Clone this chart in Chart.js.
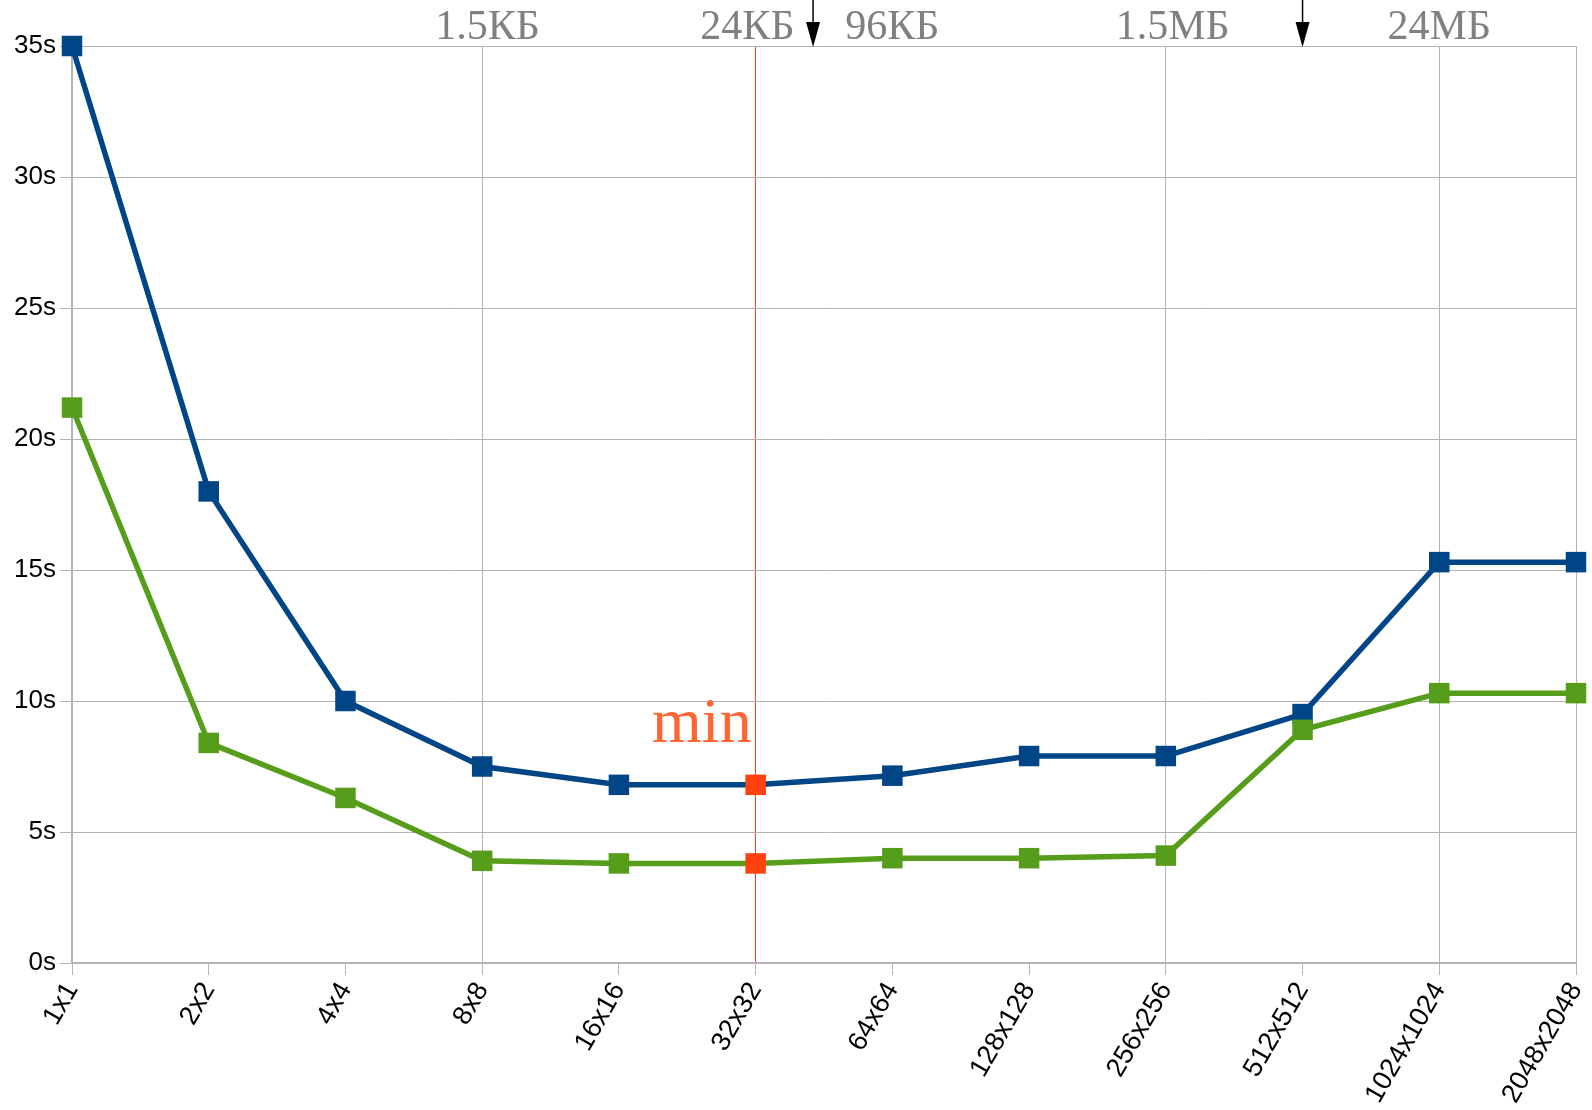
<!DOCTYPE html>
<html>
<head>
<meta charset="utf-8">
<script src="https://cdn.jsdelivr.net/npm/chart.js@4"></script>
<style>
  html, body { margin: 0; padding: 0; background: #ffffff; }
  #contenedor { width: 1592px; height: 1110px; }
</style>
</head>
<body>
<div id="contenedor"><canvas id="graficoLineas"></canvas></div>
<script>
// Tamaños de bloque (eje X)
const categorias = ['1x1', '2x2', '4x4', '8x8', '16x16', '32x32', '64x64', '128x128', '256x256', '512x512', '1024x1024', '2048x2048'];

// Tiempos en segundos
const serieAzul = [35, 18, 10, 7.5, 6.8, 6.8, 7.15, 7.9, 7.9, 9.5, 15.3, 15.3];
const serieVerde = [21.2, 8.4, 6.3, 3.9, 3.8, 3.8, 4.0, 4.0, 4.1, 8.9, 10.3, 10.3];

// Etiquetas de tamaño de memoria arriba del gráfico (posición en categorías)
const etiquetasMemoria = ['1.5КБ', '24КБ', '96КБ', '1.5МБ', '24МБ'];
const posicionesMemoria = [3.04, 4.94, 6, 8.05, 10];

// Flechas (posición en categorías, puede ser fraccionaria)
const posicionesFlechas = [5.42, 9];

// Líneas verticales de la cuadrícula visibles
const indicesCuadricula = [0, 3, 8, 10, 11];

// Mínimo
const indiceMinimo = 5;
const textoMinimo = 'min';
const valorTextoMinimo = 8.45;

const ticksY = [0, 5, 10, 15, 20, 25, 30, 35];

const AZUL = '#004586';
const VERDE = '#579d1c';
const ROJO = '#ff420e';
const GRIS = '#b3b3b3';

function coloresPuntos(color) {
    return categorias.map((c, i) => i === indiceMinimo ? ROJO : color);
}

// Pixel X para una posición de categoría fraccionaria
function pixelX(escala, pos) {
    const a = Math.floor(pos);
    const b = Math.min(a + 1, categorias.length - 1);
    const pa = escala.getPixelForValue(a);
    const pb = escala.getPixelForValue(b);
    return pa + (pb - pa) * (pos - a);
}

const pluginAnotaciones = {
    id: 'anotaciones',
    afterDraw(chart) {
        const ctx = chart.ctx;
        const x = chart.scales.x;
        const y = chart.scales.y;
        const area = chart.chartArea;
        ctx.save();

        // Textos de memoria
        ctx.font = '42px "Liberation Serif"';
        ctx.fillStyle = '#808080';
        ctx.textAlign = 'center';
        ctx.textBaseline = 'alphabetic';
        etiquetasMemoria.forEach((t, i) => {
            ctx.fillText(t, pixelX(x, posicionesMemoria[i]), area.top - 7);
        });

        // Flechas
        ctx.strokeStyle = '#000000';
        ctx.fillStyle = '#000000';
        ctx.lineWidth = 1.5;
        posicionesFlechas.forEach(p => {
            const px = pixelX(x, p);
            ctx.beginPath();
            ctx.moveTo(px, 0);
            ctx.lineTo(px, area.top - 10);
            ctx.stroke();
            ctx.beginPath();
            ctx.moveTo(px - 7, area.top - 24);
            ctx.lineTo(px + 7, area.top - 24);
            ctx.lineTo(px, area.top + 1);
            ctx.closePath();
            ctx.fill();
        });

        // Texto "min"
        ctx.font = '64px "Liberation Serif"';
        ctx.fillStyle = '#ff6633';
        ctx.textAlign = 'right';
        ctx.fillText(textoMinimo, x.getPixelForValue(indiceMinimo) - 4, y.getPixelForValue(valorTextoMinimo));
        ctx.restore();
    }
};

document.addEventListener('DOMContentLoaded', () => {
    const ctx = document.getElementById('graficoLineas').getContext('2d');
    new Chart(ctx, {
        type: 'line',
        data: {
            labels: categorias,
            datasets: [
                {
                    label: 'azul',
                    data: serieAzul,
                    borderColor: AZUL,
                    backgroundColor: AZUL,
                    pointBackgroundColor: coloresPuntos(AZUL),
                    pointBorderWidth: 0,
                    pointStyle: 'rect',
                    pointRadius: 14.5,
                    borderWidth: 5.5,
                    tension: 0,
                    clip: false,
                    order: 1
                },
                {
                    label: 'verde',
                    data: serieVerde,
                    borderColor: VERDE,
                    backgroundColor: VERDE,
                    pointBackgroundColor: coloresPuntos(VERDE),
                    pointBorderWidth: 0,
                    pointStyle: 'rect',
                    pointRadius: 14.5,
                    borderWidth: 5.5,
                    tension: 0,
                    clip: false,
                    order: 0
                }
            ]
        },
        options: {
            responsive: true,
            maintainAspectRatio: false,
            animation: false,
            devicePixelRatio: 1,
            layout: { padding: { top: 46, right: 16, left: 0, bottom: 0 } },
            plugins: {
                legend: { display: false },
                tooltip: { enabled: false }
            },
            scales: {
                x: {
                    type: 'category',
                    offset: false,
                    border: { color: GRIS, width: 2 },
                    grid: {
                        color: c => {
                            if (c.index === indiceMinimo) return ROJO;
                            return indicesCuadricula.includes(c.index) ? GRIS : 'rgba(0,0,0,0)';
                        },
                        tickColor: GRIS,
                        tickLength: 12,
                        lineWidth: 1
                    },
                    ticks: {
                        autoSkip: false,
                        maxRotation: 60,
                        minRotation: 60,
                        padding: 2,
                        color: '#000000',
                        font: { family: '"Liberation Sans"', size: 27 }
                    },
                    afterFit: s => {
                        s.height = 147;
                        s.paddingLeft = 0;
                        s.paddingRight = 0;
                    }
                },
                y: {
                    min: 0,
                    max: 35,
                    border: { color: GRIS, width: 2 },
                    afterBuildTicks: s => { s.ticks = ticksY.map(v => ({ value: v })); },
                    grid: {
                        color: GRIS,
                        tickColor: GRIS,
                        tickLength: 12,
                        lineWidth: 1
                    },
                    ticks: {
                        padding: 4,
                        color: '#000000',
                        font: { family: '"Liberation Sans"', size: 26 },
                        callback: v => v + 's'
                    },
                    afterFit: s => {
                        s.width = 72;
                        s.paddingTop = 0;
                        s.paddingBottom = 0;
                    }
                }
            }
        },
        plugins: [pluginAnotaciones]
    });
});
</script>
</body>
</html>
